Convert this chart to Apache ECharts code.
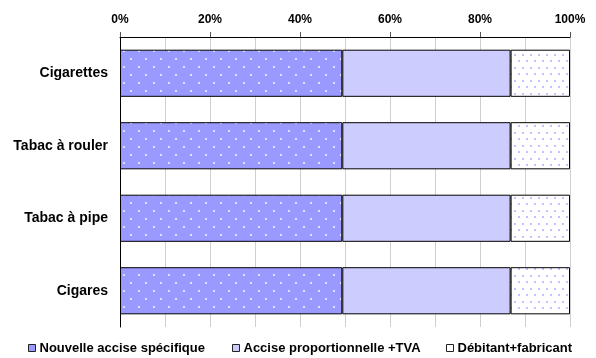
<!DOCTYPE html>
<html>
<head>
<meta charset="utf-8">
<script src="https://cdn.jsdelivr.net/npm/echarts@6/dist/echarts.min.js"></script>
<style>
  html, body { margin: 0; padding: 0; background: #fff; }
  #chart { width: 596px; height: 358px; }
</style>
</head>
<body>
<div id="chart"></div>
<script>
// Tobacco price breakdown by product (% of retail price)
const categories = ['Cigarettes', 'Tabac à rouler', 'Tabac à pipe', 'Cigares'];
const seriesNames = ['Nouvelle accise spécifique', 'Accise proportionnelle +TVA', 'Débitant+fabricant'];
const acciseSpecifique = [49.4, 49.4, 49.4, 49.4];
const acciseProportionnelle = [37.4, 37.4, 37.4, 37.4];
const debitantFabricant = [13.2, 13.2, 13.2, 13.2];
const tickValues = [0, 20, 40, 60, 80, 100];

const FONT = 'Liberation Sans, Arial, sans-serif';

// Dotted fill tiles
function dotTile(w, h, bg, dot, pts, size) {
  const c = document.createElement('canvas');
  c.width = w; c.height = h;
  const g = c.getContext('2d');
  g.fillStyle = bg; g.fillRect(0, 0, w, h);
  g.fillStyle = dot;
  pts.forEach(p => g.fillRect(p[0], p[1], size, size));
  return { image: c, repeat: 'repeat' };
}
const darkDots = dotTile(15, 16, '#9999ff', '#e2e2ff', [[3, 2], [10, 10]], 2);
const lightDots = dotTile(8, 13, '#ffffff', '#c2c2ff', [[2, 2], [6, 8]], 2);
const swatchColors = ['#9999ff', '#ccccff', '#ffffff'];
const legendLefts = [28, 232, 446];

const chart = echarts.init(document.getElementById('chart'), null, { renderer: 'canvas' });

const barStyle = { borderColor: '#000', borderWidth: 1 };

// one legend block per series so each entry sits in its own slot
const legends = seriesNames.map((name, i) => ({
  left: legendLefts[i],
  top: 341,
  padding: 0,
  itemWidth: 7,
  itemHeight: 7,
  icon: 'rect',
  textStyle: { color: '#000', fontFamily: FONT, fontWeight: 'bold', fontSize: 13, lineHeight: 14, padding: [0, 0, 0, -1] },
  data: [{ name: name, itemStyle: { color: swatchColors[i], borderColor: '#222', borderWidth: 1 } }]
}));

chart.setOption({
  animation: false,
  backgroundColor: '#fff',
  grid: { left: 120, right: 26, top: 37, bottom: 31, containLabel: false },
  xAxis: {
    type: 'value',
    position: 'top',
    min: 0, max: 100, interval: 20,
    axisLine: { show: true, lineStyle: { color: '#000', width: 1 } },
    axisTick: { show: true, length: 5, lineStyle: { color: '#555' } },
    axisLabel: {
      formatter: v => tickValues.includes(v) ? v + '%' : '',
      color: '#000', fontFamily: FONT, fontWeight: 'bold', fontSize: 12, margin: 11
    },
    splitLine: { show: true, lineStyle: { color: '#cfcfcf', width: 1 } },
    minorTick: { show: false, splitNumber: 2 },
    minorSplitLine: { show: true, lineStyle: { color: '#cfcfcf', width: 1 } }
  },
  yAxis: {
    type: 'category',
    data: categories,
    inverse: true,
    axisLine: { show: true, lineStyle: { color: '#000', width: 1 } },
    axisTick: { show: false },
    axisLabel: { color: '#000', fontFamily: FONT, fontWeight: 'bold', fontSize: 14, margin: 12 }
  },
  legend: legends,
  series: [
    { name: seriesNames[0], type: 'bar', stack: 'total', barWidth: '65%', data: acciseSpecifique,
      itemStyle: Object.assign({ color: darkDots }, barStyle) },
    { name: seriesNames[1], type: 'bar', stack: 'total', barWidth: '65%', data: acciseProportionnelle,
      itemStyle: Object.assign({ color: '#ccccff' }, barStyle) },
    { name: seriesNames[2], type: 'bar', stack: 'total', barWidth: '65%', data: debitantFabricant,
      itemStyle: Object.assign({ color: lightDots }, barStyle) }
  ]
});
</script>
</body>
</html>
